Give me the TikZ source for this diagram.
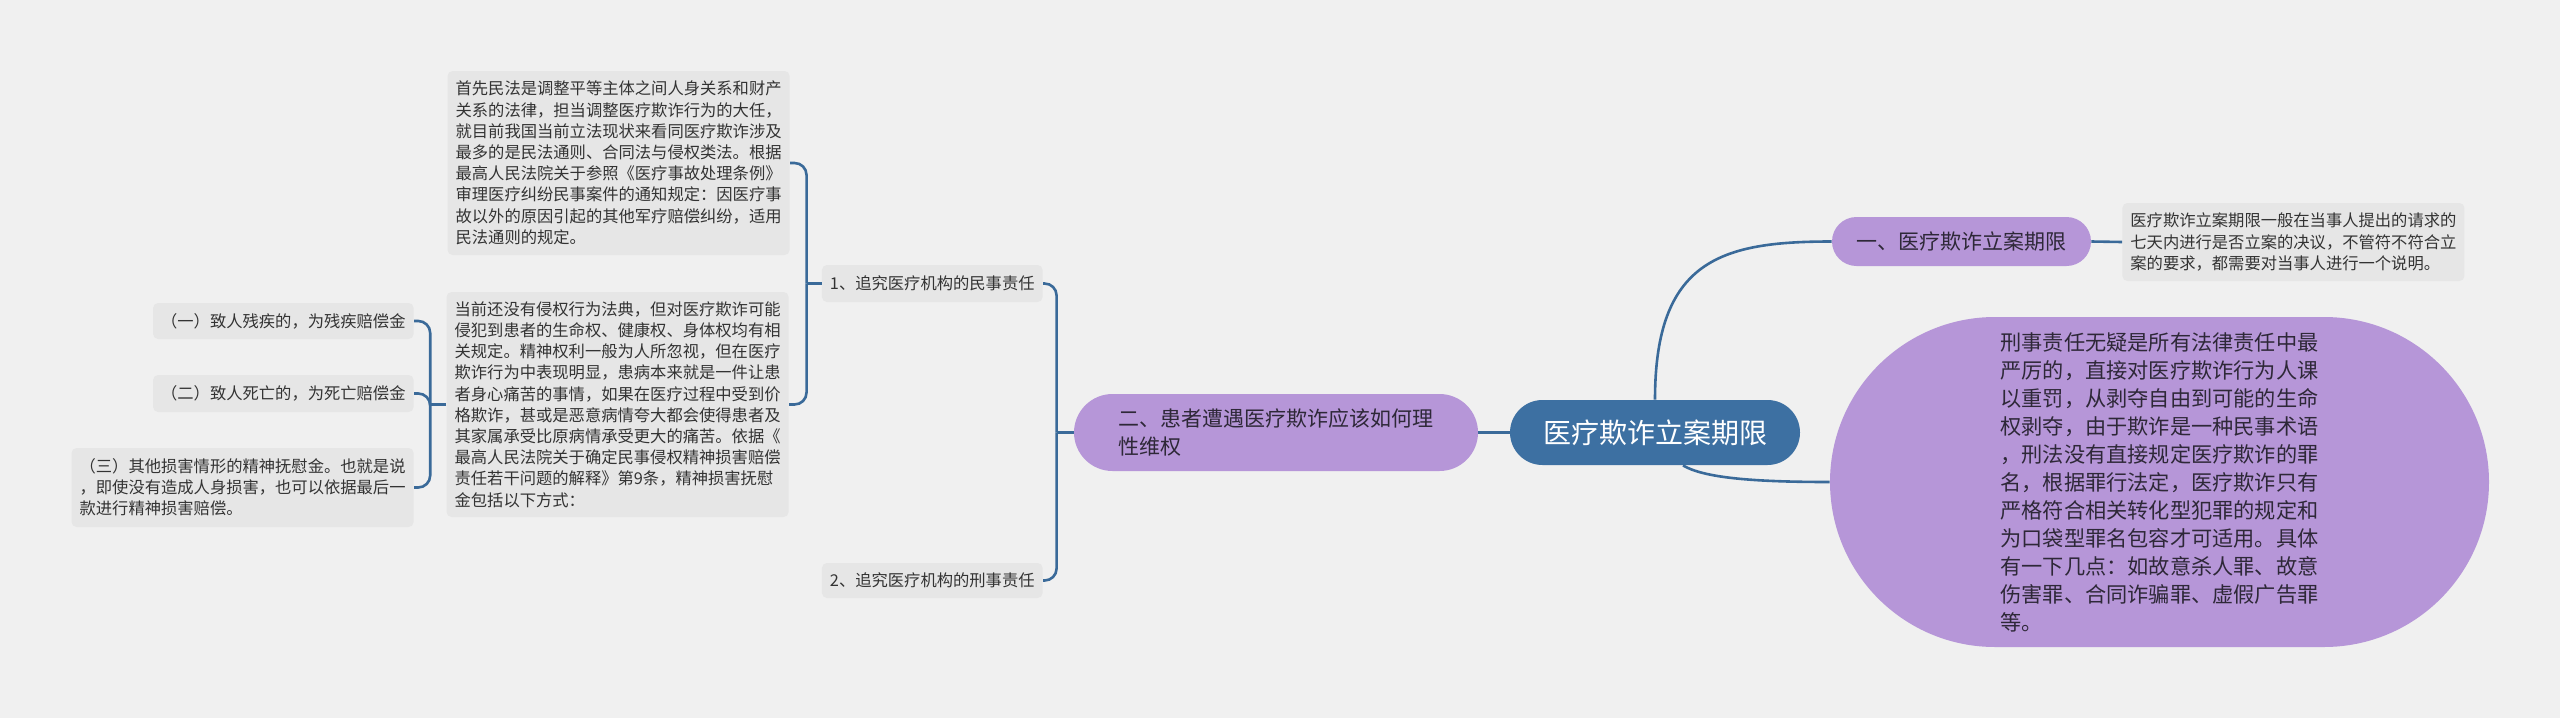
\documentclass[tikz,border=0pt]{standalone}
\usepackage{fontspec}
\newfontfamily\cjk{Noto Sans CJK SC}
\usetikzlibrary{shapes.misc,calc}
\definecolor{bg}{HTML}{F0F0F0}
\definecolor{boxgray}{HTML}{E6E6E6}
\definecolor{purp}{HTML}{B696D8}
\definecolor{cblue}{HTML}{3D70A2}
\definecolor{lineblue}{HTML}{3A6A99}
\definecolor{txt}{HTML}{333333}
\definecolor{ptxt}{HTML}{2E2838}
\begin{document}
\begin{tikzpicture}[x=0.5pt,y=-0.5pt,
  conn/.style={draw=lineblue,line width=1.3pt},
  gbox/.style={fill=boxgray,rounded corners=2.5pt,inner xsep=4pt,inner ysep=0pt,align=left,text=txt,font=\cjk\fontsize{8.15}{10.6}\selectfont},
  pnode/.style={rounded rectangle,fill=purp,inner xsep=0pt,inner ysep=0pt,text=ptxt,align=left},
  cnode/.style={rounded rectangle,fill=cblue,inner xsep=0pt,inner ysep=0pt,text=white,font=\cjk\fontsize{14}{16}\selectfont,minimum width=145pt,minimum height=32.5pt}]
\fill[bg] (0,0) rectangle (2560,718);
\useasboundingbox (0,0) rectangle (2560,718);

\node[cnode] (central) at (1655,432.5) {医疗欺诈立案期限};

\node[pnode,font=\cjk\fontsize{10.5}{14}\selectfont,minimum width=129.5pt,minimum height=24.5pt] (node1) at (1961.5,241.5) {一、医疗欺诈立案期限};

\node[gbox,anchor=west,minimum height=39pt] (n1c) at (2122,242) {医疗欺诈立案期限一般在当事人提出的请求的\\七天内进行是否立案的决议，不管符不符合立\\案的要求，都需要对当事人进行一个说明。};

\node[pnode,font=\cjk\fontsize{10.6}{14}\selectfont,minimum width=329.5pt,minimum height=165pt] (big) at (2159.5,482) {刑事责任无疑是所有法律责任中最\\严厉的，直接对医疗欺诈行为人课\\以重罚，从剥夺自由到可能的生命\\权剥夺，由于欺诈是一种民事术语\\，刑法没有直接规定医疗欺诈的罪\\名，根据罪行法定，医疗欺诈只有\\严格符合相关转化型犯罪的规定和\\为口袋型罪名包容才可适用。具体\\有一下几点：如故意杀人罪、故意\\伤害罪、合同诈骗罪、虚假广告罪\\等。};

\node[pnode,font=\cjk\fontsize{10.5}{14}\selectfont,minimum width=202pt,minimum height=38.5pt] (node2) at (1276,432.5) {二、患者遭遇医疗欺诈应该如何理\\性维权};

\node[gbox,anchor=east,minimum height=18.5pt] (c1) at (1043,283.5) {1、追究医疗机构的民事责任};
\node[gbox,anchor=east,minimum height=17.5pt] (c2) at (1043,580.5) {2、追究医疗机构的刑事责任};

\node[gbox,anchor=east,minimum height=92pt] (g1) at (790,163) {首先民法是调整平等主体之间人身关系和财产\\关系的法律，担当调整医疗欺诈行为的大任，\\就目前我国当前立法现状来看同医疗欺诈涉及\\最多的是民法通则、合同法与侵权类法。根据\\最高人民法院关于参照《医疗事故处理条例》\\审理医疗纠纷民事案件的通知规定：因医疗事\\故以外的原因引起的其他军疗赔偿纠纷，适用\\民法通则的规定。};

\node[gbox,anchor=east,minimum height=112.5pt] (g2) at (789,404.5) {当前还没有侵权行为法典，但对医疗欺诈可能\\侵犯到患者的生命权、健康权、身体权均有相\\关规定。精神权利一般为人所忽视，但在医疗\\欺诈行为中表现明显，患病本来就是一件让患\\者身心痛苦的事情，如果在医疗过程中受到价\\格欺诈，甚或是恶意病情夸大都会使得患者及\\其家属承受比原病情承受更大的痛苦。依据《\\最高人民法院关于确定民事侵权精神损害赔偿\\责任若干问题的解释》第9条，精神损害抚慰\\金包括以下方式：};

\node[gbox,anchor=east,minimum height=18pt] (k1) at (414,321) {（一）致人残疾的，为残疾赔偿金};
\node[gbox,anchor=east,minimum height=18.5pt] (k2) at (414,393.5) {（二）致人死亡的，为死亡赔偿金};
\node[gbox,anchor=east,minimum height=39.5pt] (k3) at (414,487.5) {（三）其他损害情形的精神抚慰金。也就是说\\，即使没有造成人身损害，也可以依据最后一\\款进行精神损害赔偿。};

\draw[conn] (central.west) -- (node2.east);
\draw[conn] (central.north) .. controls +(0,-140) and +(-110,0) .. (node1.west);
\draw[conn] ($(central.south)+(28,0)$) .. controls +(20,12) and +(-80,0) .. (big.west);
\draw[conn] (node1.east) -- (n1c.west);

\draw[conn] (node2.west) -- ++(-17,0) coordinate (b1);
\draw[conn,rounded corners=6pt] (b1) |- (c1.east);
\draw[conn,rounded corners=6pt] (b1) |- (c2.east);

\draw[conn] (c1.west) -- ++(-15,0) coordinate (b2);
\draw[conn,rounded corners=6pt] (b2) |- (g1.east);
\draw[conn,rounded corners=6pt] (b2) |- (g2.east);

\draw[conn] (g2.west) -- ++(-16,0) coordinate (b3);
\draw[conn,rounded corners=6pt] (b3) |- (k1.east);
\draw[conn,rounded corners=6pt] (b3) |- (k2.east);
\draw[conn,rounded corners=6pt] (b3) |- (k3.east);
\end{tikzpicture}
\end{document}
